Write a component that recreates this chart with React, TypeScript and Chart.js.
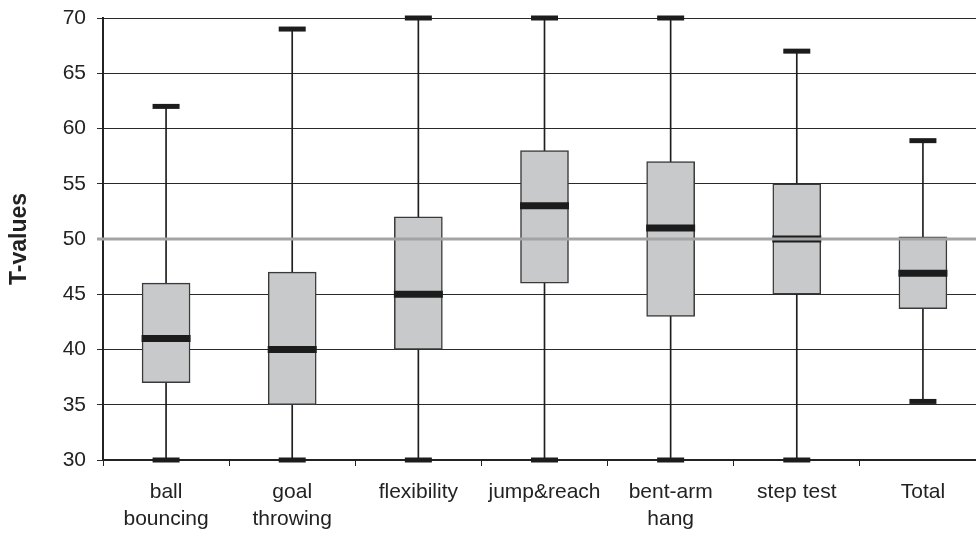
import React, { useEffect, useRef } from 'react';
import { Chart, registerables } from 'chart.js';

Chart.register(...registerables);

// ---- data ----
const categories: (string | string[])[] = [
  ['ball', 'bouncing'],
  ['goal', 'throwing'],
  'flexibility',
  'jump&reach',
  ['bent-arm', 'hang'],
  'step test',
  'Total',
];
const whiskerLow = [30, 30, 30, 30, 30, 30, 35.3];
const quartile1 = [37, 35, 40, 46, 43, 45, 43.7];
const medians = [41, 40, 45, 53, 51, 50, 46.9];
const quartile3 = [46, 47, 52, 58, 57, 55, 50.2];
const whiskerHigh = [62, 69, 70, 70, 70, 67, 58.9];
const referenceValue = 50;
const yMin = 30;
const yMax = 70;
const yStep = 5;
const yTitle = 'T-values';

const FONT = '"Liberation Sans", Arial, Helvetica, sans-serif';

const refLinePlugin = {
  id: 'refLine',
  afterDatasetsDraw(chart: any) {
    const { ctx, chartArea, scales } = chart;
    const y = scales.y.getPixelForValue(referenceValue);
    ctx.save();
    ctx.strokeStyle = '#a4a4a4';
    ctx.lineWidth = 3;
    ctx.beginPath();
    ctx.moveTo(chartArea.left - 6, y);
    ctx.lineTo(chartArea.right, y);
    ctx.stroke();
    ctx.restore();
  },
};

export default function App() {
  const canvasRef = useRef<HTMLCanvasElement | null>(null);

  useEffect(() => {
    if (!canvasRef.current) return;
    const chart = new Chart(canvasRef.current, {
      type: 'bar',
      data: {
        labels: categories,
        datasets: [
          {
            type: 'bar',
            label: 'whisker',
            data: whiskerLow.map((v, i) => [v, whiskerHigh[i]]),
            backgroundColor: '#1e1e1e',
            borderWidth: 0,
            barThickness: 1,
            grouped: false,
            order: 4,
            clip: false,
          } as any,
          {
            type: 'bar',
            label: 'box',
            data: quartile1.map((v, i) => [v, quartile3[i]]),
            backgroundColor: '#c8c9cb',
            borderColor: '#3a3a3a',
            borderWidth: 1.5,
            borderSkipped: false,
            barThickness: 48,
            grouped: false,
            order: 3,
            clip: false,
          } as any,
          {
            type: 'line',
            label: 'median',
            data: medians,
            showLine: false,
            pointStyle: 'line',
            pointRadius: 24.5,
            pointBorderWidth: 7,
            pointBorderColor: '#1c1c1c',
            pointBackgroundColor: '#1c1c1c',
            order: 2,
            clip: false,
          } as any,
          {
            type: 'line',
            label: 'max',
            data: whiskerHigh,
            showLine: false,
            pointStyle: 'line',
            pointRadius: 13.5,
            pointBorderWidth: 5,
            pointBorderColor: '#1c1c1c',
            order: 1,
            clip: false,
          } as any,
          {
            type: 'line',
            label: 'min',
            data: whiskerLow,
            showLine: false,
            pointStyle: 'line',
            pointRadius: 13.5,
            pointBorderWidth: 5,
            pointBorderColor: '#1c1c1c',
            order: 1,
            clip: false,
          } as any,
        ],
      },
      options: {
        animation: false,
        responsive: true,
        maintainAspectRatio: false,
        layout: { autoPadding: false, padding: { top: 18, left: 0, right: 0, bottom: 0 } },
        plugins: {
          legend: { display: false },
          tooltip: { enabled: false },
        },
        scales: {
          x: {
            type: 'category',
            offset: true,
            afterFit: (s: any) => {
              s.height = 76;
            },
            grid: {
              offset: true,
              drawOnChartArea: false,
              drawTicks: true,
              tickLength: 6,
              color: '#222',
              lineWidth: 1,
            },
            border: { display: true, color: '#222', width: 2 },
            ticks: {
              padding: 13,
              color: '#222',
              maxRotation: 0,
              autoSkip: false,
              font: { family: FONT, size: 21, lineHeight: 1.29 },
            },
          },
          y: {
            min: yMin,
            max: yMax,
            afterFit: (s: any) => {
              s.width = 103;
            },
            grid: {
              color: '#2a2a2a',
              lineWidth: 1,
              tickLength: 6,
              drawTicks: true,
            },
            border: { display: true, color: '#222', width: 2 },
            ticks: {
              stepSize: yStep,
              padding: 11,
              color: '#222',
              font: { family: FONT, size: 21, lineHeight: 0.6 },
            },
            title: {
              display: true,
              text: yTitle,
              color: '#222',
              padding: { top: 6, bottom: 0 },
              font: { family: FONT, size: 23, weight: 'bold' },
            },
          },
        },
      } as any,
      plugins: [refLinePlugin],
    });
    return () => chart.destroy();
  }, []);

  return (
    <div
      style={{
        position: 'fixed',
        left: 0,
        top: 0,
        width: 976,
        height: 536,
        overflow: 'hidden',
        background: '#fff',
      }}
    >
      <div style={{ position: 'relative', width: 986, height: 536 }}>
        <canvas ref={canvasRef} />
      </div>
    </div>
  );
}
